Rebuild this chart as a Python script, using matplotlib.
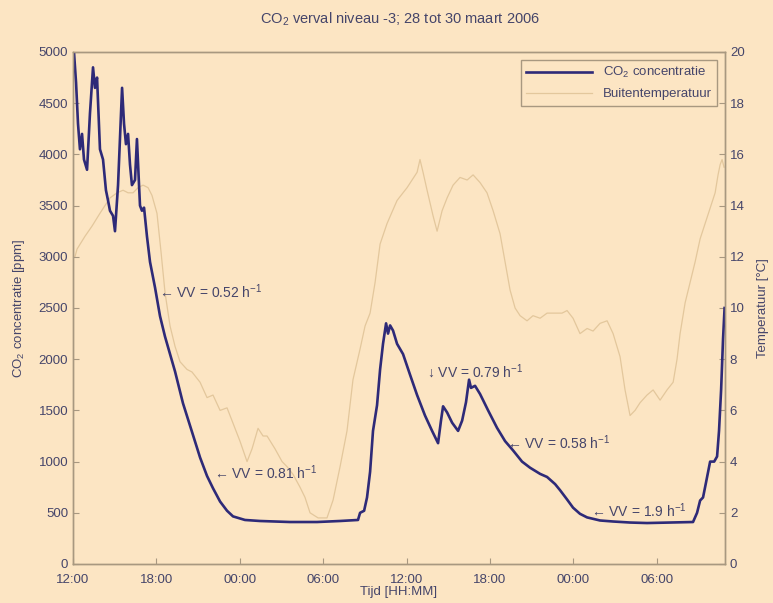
import matplotlib
matplotlib.use("Agg")
import matplotlib.pyplot as plt

# ---- data (hours since 28 March 12:00) ----
co2_hours = [0.07, 0.22, 0.36, 0.50, 0.65, 0.79, 1.01, 1.22, 1.44, 1.58, 1.73, 1.94,
             2.16, 2.37, 2.52, 2.66, 2.88, 3.02, 3.24, 3.53, 3.67, 3.81, 3.96, 4.10,
             4.24, 4.46, 4.60, 4.75, 4.82, 4.96, 5.11, 5.32, 5.54, 5.90, 6.26, 6.62,
             7.34, 7.91, 8.63, 9.14, 9.64, 10.07, 10.58, 11.08, 11.51, 12.37, 13.45,
             15.61, 17.55, 19.21, 20.50, 20.65, 20.94, 21.15, 21.37, 21.58, 21.87,
             22.09, 22.30, 22.52, 22.66, 22.81, 23.02, 23.31, 23.74, 24.24, 24.75,
             25.32, 25.83, 26.26, 26.47, 26.62, 26.91, 27.27, 27.70, 27.99, 28.27,
             28.49, 28.63, 28.92, 29.28, 29.86, 30.50, 31.08, 31.65, 32.30, 32.88,
             33.60, 34.10, 34.68, 35.04, 35.54, 35.97, 36.47, 36.98, 37.91, 38.85,
             40.07, 41.29, 42.95, 44.60, 44.89, 45.11, 45.32, 45.54, 45.83, 46.12,
             46.33, 46.47, 46.62, 46.76, 46.87]
co2_ppm = [5000, 4700, 4300, 4050, 4200, 3950, 3850, 4400, 4850, 4650, 4750, 4050,
           3950, 3650, 3550, 3450, 3400, 3250, 3700, 4650, 4300, 4100, 4200, 3900,
           3700, 3750, 4150, 3700, 3500, 3450, 3480, 3200, 2950, 2700, 2420, 2220,
           1880, 1570, 1260, 1040, 860, 740, 610, 520, 465, 430, 420,
           410, 410, 420, 430, 500, 520, 650, 900, 1300, 1550,
           1900, 2150, 2350, 2250, 2330, 2280, 2150, 2050, 1850, 1650,
           1450, 1300, 1180, 1400, 1540, 1480, 1380, 1300, 1400, 1580,
           1800, 1720, 1740, 1660, 1500, 1330, 1200, 1110, 1000, 940,
           880, 850, 780, 720, 630, 550, 490, 455, 425, 415,
           405, 400, 405, 410, 500, 620, 650, 800, 1000, 1000,
           1050, 1300, 1700, 2200, 2500]

temp_hours = [0.14, 0.29, 0.86, 1.37, 1.94, 2.30, 2.66, 3.17, 3.60, 3.96, 4.32, 4.68,
              5.04, 5.40, 5.68, 6.04, 6.33, 6.62, 6.98, 7.34, 7.70, 8.20, 8.56, 9.14,
              9.64, 10.07, 10.58, 11.08, 11.51, 12.01, 12.52, 12.88, 13.31, 13.67,
              13.96, 14.53, 15.04, 15.40, 15.83, 16.33, 16.69, 17.05, 17.63, 18.27,
              18.71, 19.21, 19.71, 20.14, 20.65, 21.01, 21.37, 21.73, 22.09, 22.59,
              23.31, 23.74, 24.03, 24.39, 24.75, 24.96, 25.18, 25.47, 25.90, 26.19,
              26.55, 26.91, 27.34, 27.84, 28.35, 28.78, 29.28, 29.78, 30.22, 30.72,
              31.08, 31.44, 31.80, 32.16, 32.66, 33.09, 33.60, 34.10, 34.68, 35.18,
              35.54, 35.97, 36.47, 36.98, 37.41, 37.91, 38.42, 38.85, 39.35, 39.71,
              40.07, 40.43, 40.79, 41.29, 41.73, 42.23, 42.73, 43.17, 43.45, 43.67,
              44.03, 44.39, 44.75, 45.11, 45.47, 45.83, 46.19, 46.40, 46.55, 46.69,
              46.83]
temp_c = [12.0, 12.3, 12.8, 13.2, 13.7, 14.0, 14.3, 14.5, 14.6, 14.5, 14.5, 14.7,
          14.8, 14.7, 14.4, 13.7, 12.2, 10.6, 9.3, 8.5, 7.9, 7.6, 7.5, 7.1,
          6.5, 6.6, 6.0, 6.1, 5.5, 4.8, 4.0, 4.5, 5.3, 5.0,
          5.0, 4.5, 4.0, 3.8, 3.5, 3.0, 2.6, 2.0, 1.8, 1.8,
          2.5, 3.8, 5.2, 7.2, 8.4, 9.3, 9.8, 11.0, 12.5, 13.3,
          14.2, 14.5, 14.7, 15.0, 15.3, 15.8, 15.3, 14.6, 13.6, 13.0,
          13.8, 14.3, 14.8, 15.1, 15.0, 15.2, 14.9, 14.5, 13.8, 12.9,
          11.8, 10.7, 10.0, 9.7, 9.5, 9.7, 9.6, 9.8, 9.8, 9.8,
          9.9, 9.6, 9.0, 9.2, 9.1, 9.4, 9.5, 9.0, 8.1, 6.8,
          5.8, 6.0, 6.3, 6.6, 6.8, 6.4, 6.8, 7.1, 8.0, 9.0,
          10.2, 11.0, 11.8, 12.7, 13.3, 13.9, 14.5, 15.2, 15.6, 15.8,
          15.5]

tick_hours = [0, 6, 12, 18, 24, 30, 36, 42]
tick_labels = ["12:00", "18:00", "00:00", "06:00", "12:00", "18:00", "00:00", "06:00"]

ann_texts = ["\u2190 VV = 0.52 h$^{-1}$", "\u2190 VV = 0.81 h$^{-1}$",
             "\u2193 VV = 0.79 h$^{-1}$", "\u2190 VV = 0.58 h$^{-1}$",
             "\u2190 VV = 1.9 h$^{-1}$"]
ann_hours = [6.2, 10.15, 25.45, 31.25, 37.25]
ann_ppm = [2656, 890, 1875, 1180, 518]

# ---- style ----
bg = "#fce5c3"
txt = "#45456a"
spine = "#a89880"
navy = "#2e2a78"
tan = "#e3c79c"

plt.rcParams["font.family"] = ["Liberation Sans", "DejaVu Sans"]
plt.rcParams["mathtext.fontset"] = "custom"
plt.rcParams["mathtext.rm"] = "Liberation Sans"

fig = plt.figure(figsize=(7.73, 6.03), dpi=100, facecolor=bg)
ax = fig.add_axes([73 / 773, 39 / 603, 652 / 773, 512 / 603])
ax.set_facecolor(bg)
ax2 = ax.twinx()

l2, = ax2.plot(temp_hours, temp_c, color=tan, lw=0.9, label="Buitentemperatuur")
l1, = ax.plot(co2_hours, co2_ppm, color=navy, lw=1.9, label="CO$_2$ concentratie")
ax.set_zorder(ax2.get_zorder() + 1)
ax.patch.set_visible(False)
ax2.patch.set_visible(True)
ax2.patch.set_facecolor(bg)

ax.set_xlim(0, 46.9)
ax.set_ylim(0, 5000)
ax2.set_ylim(0, 20)
ax.set_yticks(range(0, 5001, 500))
ax2.set_yticks(range(0, 21, 2))
ax.set_xticks(tick_hours)
ax.set_xticklabels(tick_labels)

for a in (ax, ax2):
    for s in a.spines.values():
        s.set_color(spine)
        s.set_linewidth(1.0)
    a.tick_params(direction="in", colors=spine, labelcolor=txt, labelsize=9.5, length=4)
ax.tick_params(axis="x", pad=7)

ax.set_xlabel("Tijd [HH:MM]", color=txt, fontsize=9.5, labelpad=0)
ax.set_ylabel("CO$_2$ concentratie [ppm]", color=txt, fontsize=9.5, labelpad=8)
ax2.set_ylabel("Temperatuur [°C]", color=txt, fontsize=9.5, labelpad=9)
fig.text(0.517, 0.968, "CO$_2$ verval niveau -3; 28 tot 30 maart 2006",
         ha="center", va="center", color=txt, fontsize=10.5)

for t, h, p in zip(ann_texts, ann_hours, ann_ppm):
    ax.text(h, p, t, color=txt, fontsize=10, ha="left", va="center")

leg = ax.legend(handles=[l1, l2], loc="upper right", fontsize=9.5, frameon=True,
                fancybox=False, borderaxespad=0.6, handlelength=5.0,
                borderpad=0.4, labelspacing=0.6)
leg.get_frame().set_facecolor(bg)
leg.get_frame().set_edgecolor(spine)
leg.get_frame().set_alpha(1)
for t in leg.get_texts():
    t.set_color(txt)

fig.savefig("out.png", dpi=100, facecolor=bg)
